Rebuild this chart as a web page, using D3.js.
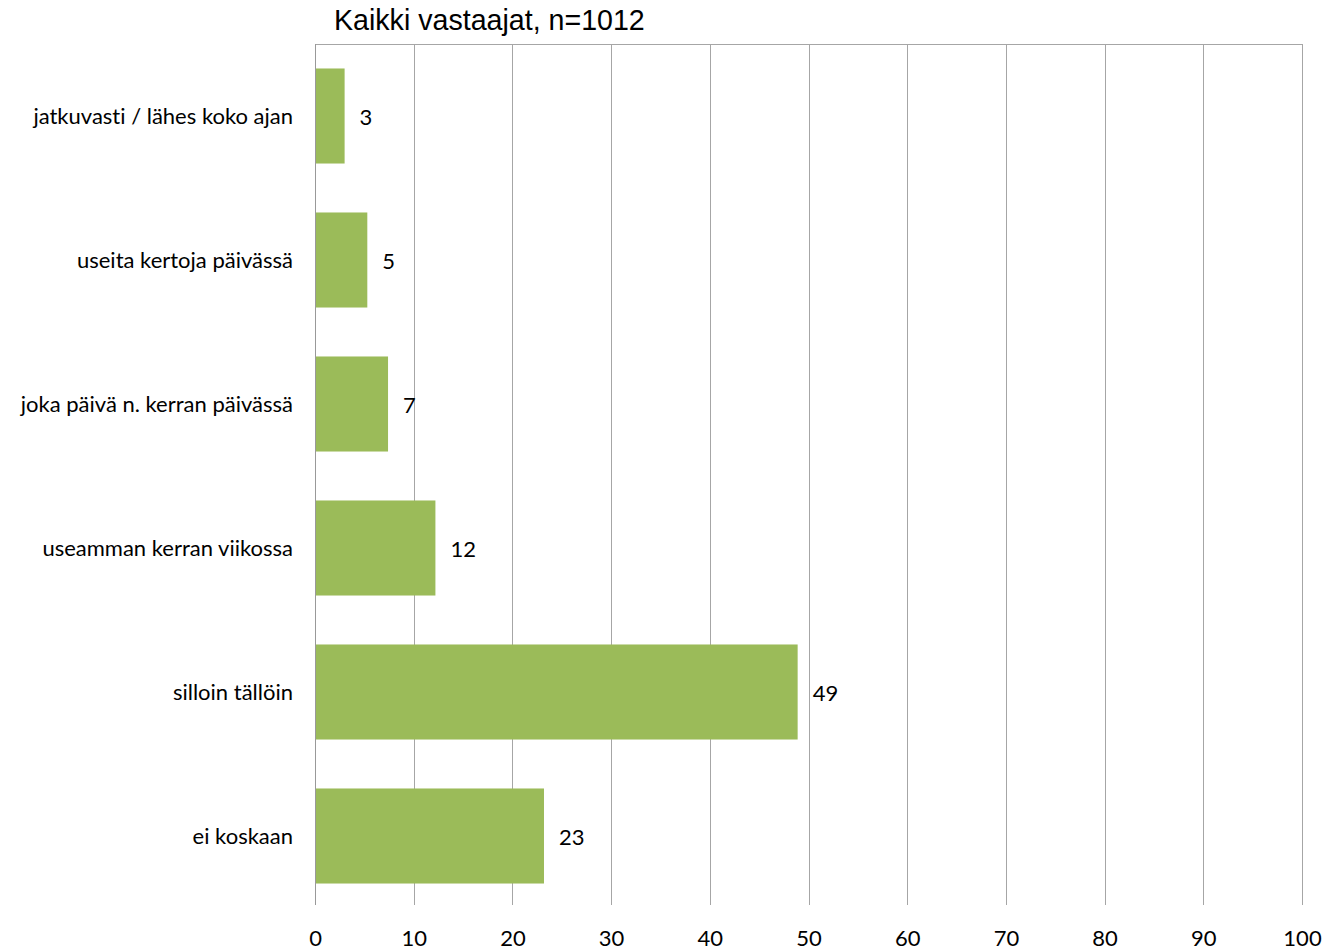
<!DOCTYPE html>
<html>
<head>
<meta charset="utf-8">
<title>Kaikki vastaajat</title>
<script src="https://d3js.org/d3.v7.min.js"></script>
<style>
    body { margin: 0; background: #fff; }
    .cat, .val, .tick text { font-family: Lato, "Open Sans", sans-serif; font-size: 22px; fill: #000;
        font-variant-ligatures: none; }
</style>
</head>
<body>
<div id="chart"></div>
<script>
// data
var categories = ["jatkuvasti / lähes koko ajan", "useita kertoja päivässä", "joka päivä n. kerran päivässä",
    "useamman kerran viikossa", "silloin tällöin", "ei koskaan"];
var values = [3.0, 5.3, 7.4, 12.2, 48.9, 23.2];
var valueLabels = ["3", "5", "7", "12", "49", "23"];
var xTicks = [0, 10, 20, 30, 40, 50, 60, 70, 80, 90, 100];
var title = "Kaikki vastaajat, n=1012";

var W = 1335, H = 952;
var margin = { top: 44, right: 33, bottom: 44, left: 315 };
var width = W - margin.left - margin.right,
    height = H - margin.top - margin.bottom;

var svg = d3.select("#chart").append("svg")
    .attr("width", W).attr("height", H);

var g = svg.append("g")
    .attr("transform", "translate(" + margin.left + "," + margin.top + ")");

var x = d3.scaleLinear().domain([0, 100]).range([0, width]);
var y = d3.scaleBand().domain(categories).range([0, height]).paddingInner(0.34).paddingOuter(0.17);

// gridlines (extend below as tick marks)
g.selectAll(".grid")
    .data(xTicks)
    .enter().append("line")
    .attr("x1", function (d) { return Math.round(x(d)) + 0.5; })
    .attr("x2", function (d) { return Math.round(x(d)) + 0.5; })
    .attr("y1", 0)
    .attr("y2", height - 3)
    .attr("stroke", "#a6a6a6")
    .attr("stroke-width", 1);

// top border
g.append("line")
    .attr("x1", 0).attr("x2", width + 0.5)
    .attr("y1", 0.5).attr("y2", 0.5)
    .attr("stroke", "#a6a6a6");

// left axis line
g.append("line")
    .attr("x1", 0.5).attr("x2", 0.5)
    .attr("y1", 0).attr("y2", height - 3)
    .attr("stroke", "#999");

// bars
g.selectAll(".bar")
    .data(values)
    .enter().append("rect")
    .attr("x", 1)
    .attr("y", function (d, i) { return y(categories[i]); })
    .attr("width", function (d) { return x(d) - 1; })
    .attr("height", y.bandwidth())
    .attr("fill", "#9bbb59");

// value labels
g.selectAll(".val")
    .data(values)
    .enter().append("text")
    .attr("class", "val")
    .attr("x", function (d) { return x(d) + 15; })
    .attr("y", function (d, i) { return y(categories[i]) + y.bandwidth() / 2 + 1; })
    .attr("dy", "0.35em")
    .text(function (d, i) { return valueLabels[i]; });

// category labels
g.selectAll(".cat")
    .data(categories)
    .enter().append("text")
    .attr("class", "cat")
    .attr("x", -22)
    .attr("y", function (d) { return y(d) + y.bandwidth() / 2; })
    .attr("dy", "0.35em")
    .attr("text-anchor", "end")
    .text(function (d) { return d; });

// x tick labels
var xAxis = g.append("g")
    .attr("transform", "translate(0," + height + ")")
    .call(d3.axisBottom(x).tickValues(xTicks).tickSize(0).tickPadding(22));
xAxis.select(".domain").remove();
xAxis.selectAll("text").attr("fill", "#000");

// title
svg.append("text")
    .attr("x", 334)
    .attr("y", 30)
    .style("font-family", "Arial, 'Liberation Sans', sans-serif")
    .style("font-size", "28.6px")
    .text(title);
</script>
</body>
</html>
